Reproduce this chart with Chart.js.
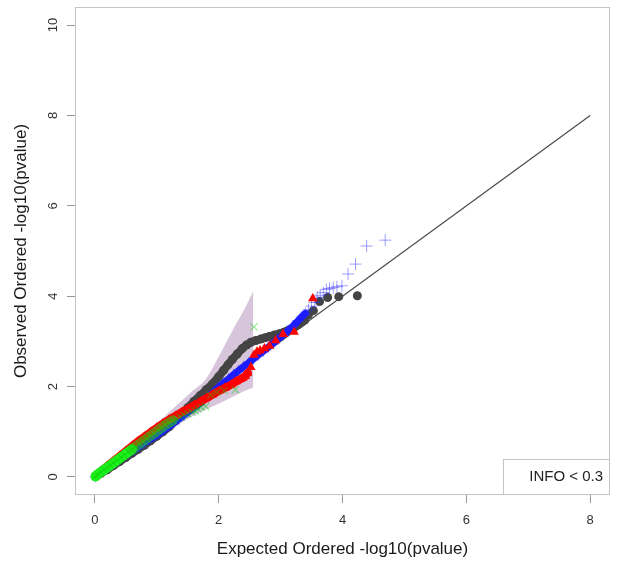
<!DOCTYPE html>
<html>
<head>
<meta charset="utf-8">
<script src="https://cdn.jsdelivr.net/npm/chart.js@4.4.0/dist/chart.umd.min.js"></script>
<style>
  body { margin: 0; background: #fff; }
  canvas { display: block; }
</style>
</head>
<body>
<canvas id="qq" width="622" height="566"></canvas>
<script>
// tick labels
var xTicks = [0, 2, 4, 6, 8];
var yTicks = [0, 2, 4, 6, 8, 10];
var legendText = 'INFO < 0.3';

// reference line y = x
var refLine = [0, 8];

// confidence band (drawn for the smallest set)
var bandX    = [0, 0.25, 0.5, 0.75, 1.0, 1.3, 1.55, 1.8, 2.0, 2.2, 2.35, 2.45, 2.56];
var bandHigh = [0.01, 0.3, 0.58, 0.88, 1.18, 1.56, 1.87, 2.18, 2.66, 3.18, 3.55, 3.8, 4.12];
var bandLow  = [0, 0.22, 0.44, 0.66, 0.88, 1.12, 1.32, 1.5, 1.62, 1.76, 1.86, 1.92, 1.98];

// grey circles
var greyX = [0.01, 0.1, 0.2, 0.3, 0.4, 0.5, 0.6, 0.7, 0.8, 0.9, 1.0, 1.1, 1.2, 1.3, 1.4, 1.5, 1.6, 1.7, 1.8, 1.9, 2.0, 2.08, 2.15, 2.22, 2.3, 2.38, 2.45, 2.52, 2.6, 2.68, 2.75, 2.82, 2.9, 2.98, 3.05, 3.12, 3.18, 3.24, 3.29, 3.34, 3.39, 3.45, 3.53, 3.63, 3.76, 3.94, 4.24];
var greyY = [0.01, 0.08, 0.16, 0.25, 0.34, 0.43, 0.52, 0.61, 0.7, 0.8, 0.9, 1.0, 1.11, 1.24, 1.38, 1.53, 1.67, 1.8, 1.93, 2.06, 2.22, 2.36, 2.48, 2.6, 2.72, 2.84, 2.92, 2.98, 3.02, 3.05, 3.08, 3.11, 3.14, 3.17, 3.2, 3.24, 3.28, 3.33, 3.37, 3.42, 3.47, 3.59, 3.68, 3.88, 3.97, 3.99, 4.01];

// blue crosses
var blueX = [0.01, 0.08, 0.16, 0.24, 0.32, 0.4, 0.48, 0.56, 0.64, 0.72, 0.8, 0.88, 0.96, 1.04, 1.12, 1.2, 1.28, 1.36, 1.44, 1.52, 1.6, 1.68, 1.76, 1.84, 1.92, 2.0, 2.08, 2.16, 2.24, 2.32, 2.4, 2.48, 2.56, 2.64, 2.72, 2.8, 2.88, 2.96, 3.04, 3.12, 3.2, 3.28, 3.34, 3.4, 3.45, 3.5, 3.55, 3.59, 3.64, 3.69, 3.74, 3.79, 3.85, 3.91, 3.99, 4.09, 4.21, 4.39, 4.69];
var blueY = [0.01, 0.08, 0.16, 0.23, 0.31, 0.38, 0.46, 0.53, 0.6, 0.67, 0.75, 0.82, 0.89, 0.96, 1.04, 1.12, 1.2, 1.28, 1.37, 1.45, 1.53, 1.61, 1.7, 1.78, 1.88, 1.99, 2.08, 2.17, 2.26, 2.35, 2.44, 2.52, 2.61, 2.7, 2.78, 2.87, 2.96, 3.05, 3.14, 3.24, 3.34, 3.45, 3.54, 3.62, 3.7, 3.78, 3.86, 3.98, 4.02, 4.08, 4.15, 4.17, 4.19, 4.21, 4.23, 4.49, 4.71, 5.11, 5.24];

// red triangles
var redX = [0.01, 0.1, 0.2, 0.3, 0.4, 0.5, 0.6, 0.7, 0.8, 0.9, 1.0, 1.1, 1.2, 1.3, 1.4, 1.5, 1.6, 1.7, 1.8, 1.9, 2.0, 2.1, 2.2, 2.28, 2.35, 2.39, 2.43, 2.47, 2.52, 2.57, 2.62, 2.67, 2.74, 2.82, 2.92, 3.04, 3.22, 3.52];
var redY = [0.02, 0.13, 0.24, 0.35, 0.46, 0.57, 0.68, 0.79, 0.89, 0.99, 1.09, 1.18, 1.27, 1.35, 1.43, 1.5, 1.58, 1.66, 1.74, 1.82, 1.9, 1.97, 2.04, 2.11, 2.16, 2.19, 2.23, 2.3, 2.43, 2.7, 2.77, 2.8, 2.84, 2.9, 3.02, 3.16, 3.21, 3.95];

// green x marks
var greenX = [0.01, 0.05, 0.1, 0.15, 0.2, 0.25, 0.3, 0.36, 0.42, 0.48, 0.54, 0.6, 0.66, 0.72, 0.78, 0.84, 0.9, 0.96, 1.02, 1.08, 1.14, 1.2, 1.26, 1.32, 1.38, 1.44, 1.5, 1.57, 1.62, 1.67, 1.72, 1.79, 1.87, 1.97, 2.09, 2.27, 2.57];
var greenY = [0.01, 0.06, 0.11, 0.16, 0.21, 0.26, 0.31, 0.37, 0.43, 0.49, 0.55, 0.61, 0.67, 0.73, 0.79, 0.85, 0.91, 0.97, 1.03, 1.09, 1.15, 1.2, 1.25, 1.29, 1.33, 1.37, 1.4, 1.43, 1.46, 1.5, 1.54, 1.56, 1.81, 1.88, 1.91, 1.93, 3.32];

function pts(xs, ys) {
  return xs.map(function (x, i) { return { x: x, y: ys[i] }; });
}

// thick stroke joining the dense part of a series, points alone in the tail
function body(color, limit, fade, faded) {
  return function (c) {
    var x = c.p1.parsed.x;
    if (x > limit) return 'transparent';
    return (fade !== undefined && x > fade) ? faded : color;
  };
}

var frame = {
  id: 'frame',
  afterDraw: function (chart) {
    var a = chart.chartArea, c = chart.ctx;
    c.save();
    c.strokeStyle = '#c4c4c4';
    c.lineWidth = 1;
    c.strokeRect(a.left + 0.5, a.top + 0.5, a.right - a.left - 1, a.bottom - a.top - 1);
    // legend box in the bottom right corner
    var w = 107, h = 36;
    c.fillStyle = '#fff';
    c.fillRect(a.right - w, a.bottom - h, w, h);
    c.strokeRect(a.right - w + 0.5, a.bottom - h + 0.5, w - 1, h - 1);
    c.fillStyle = '#222';
    c.font = '15px "Liberation Sans", Arial, sans-serif';
    c.textAlign = 'right';
    c.textBaseline = 'middle';
    c.fillText(legendText, a.right - 7, a.bottom - h / 2);
    c.restore();
  }
};

Chart.defaults.font.family = '"Liberation Sans", Arial, sans-serif';

var ctx = document.getElementById('qq').getContext('2d');
var qq = new Chart(ctx, {
  type: 'scatter',
  data: {
    datasets: [
      {
        label: 'green',
        data: pts(greenX, greenY),
        showLine: true,
        borderColor: '#22ee22',
        borderWidth: 10,
        borderCapStyle: 'round',
        segment: { borderColor: body('#1ff01f', 1.26, 0.6, 'rgba(40,200,20,0.55)') },
        pointStyle: 'crossRot',
        pointRadius: 5,
        pointBorderColor: 'rgba(0,210,0,0.45)',
        pointBorderWidth: 1.2
      },
      {
        label: 'red',
        data: pts(redX, redY),
        showLine: true,
        borderColor: '#ff0000',
        borderWidth: 8,
        borderCapStyle: 'round',
        segment: { borderColor: body('#ff0000', 2.5) },
        pointStyle: 'triangle',
        pointRadius: 5.5,
        pointBackgroundColor: '#ff0000',
        pointBorderColor: '#ff0000',
        pointBorderWidth: 0
      },
      {
        label: 'blue',
        data: pts(blueX, blueY),
        showLine: true,
        borderColor: '#1a1aff',
        borderWidth: 7,
        borderCapStyle: 'round',
        segment: { borderColor: body('#1a1aff', 3.4) },
        pointStyle: 'cross',
        pointRadius: 6,
        pointBorderColor: 'rgba(40,40,255,0.45)',
        pointBorderWidth: 1
      },
      {
        label: 'grey',
        data: pts(greyX, greyY),
        showLine: true,
        borderColor: '#444444',
        borderWidth: 8,
        borderCapStyle: 'round',
        segment: { borderColor: body('#444444', 3.4) },
        pointStyle: 'circle',
        pointRadius: 4.5,
        pointBackgroundColor: '#444444',
        pointBorderColor: '#444444',
        pointBorderWidth: 0
      },
      {
        label: 'y = x',
        data: pts(refLine, refLine),
        showLine: true,
        borderColor: '#4a4a4a',
        borderWidth: 1.2,
        pointRadius: 0
      },
      {
        label: 'band high',
        data: pts(bandX, bandHigh),
        showLine: true,
        borderColor: 'transparent',
        borderWidth: 0,
        pointRadius: 0,
        cubicInterpolationMode: 'monotone',
        backgroundColor: 'rgb(214,197,219)',
        fill: '+1'
      },
      {
        label: 'band low',
        data: pts(bandX, bandLow),
        showLine: true,
        borderColor: 'transparent',
        borderWidth: 0,
        pointRadius: 0,
        cubicInterpolationMode: 'monotone',
        fill: false
      }
    ]
  },
  options: {
    responsive: false,
    animation: false,
    events: [],
    layout: { padding: { top: 5, right: 12, left: 0, bottom: 0 } },
    plugins: {
      legend: { display: false },
      tooltip: { enabled: false }
    },
    scales: {
      x: {
        type: 'linear',
        min: -0.32,
        max: 8.32,
        afterBuildTicks: function (s) { s.ticks = xTicks.map(function (v) { return { value: v }; }); },
        afterFit: function (s) { s.height = 71; s.paddingLeft = 0; s.paddingRight = 0; },
        grid: { drawOnChartArea: false, drawTicks: true, tickLength: 8, color: '#9a9a9a' },
        border: { display: false },
        ticks: { color: '#333', font: { size: 13 }, padding: 10, maxRotation: 0 },
        title: {
          display: true,
          text: 'Expected Ordered -log10(pvalue)',
          color: '#1a1a1a',
          font: { size: 17 },
          padding: { top: 0, bottom: 6 }
        }
      },
      y: {
        type: 'linear',
        min: -0.4,
        max: 10.4,
        afterBuildTicks: function (s) { s.ticks = yTicks.map(function (v) { return { value: v }; }); },
        afterFit: function (s) { s.width = 75; s.paddingTop = 0; s.paddingBottom = 0; },
        grid: { drawOnChartArea: false, drawTicks: true, tickLength: 8, color: '#9a9a9a' },
        border: { display: false },
        ticks: { color: '#333', font: { size: 13 }, padding: 6, minRotation: 90, maxRotation: 90, crossAlign: 'center' },
        title: {
          display: true,
          text: 'Observed Ordered -log10(pvalue)',
          color: '#1a1a1a',
          font: { size: 17 },
          padding: { top: 11, bottom: 0 }
        }
      }
    }
  },
  plugins: [frame]
});
</script>
</body>
</html>
